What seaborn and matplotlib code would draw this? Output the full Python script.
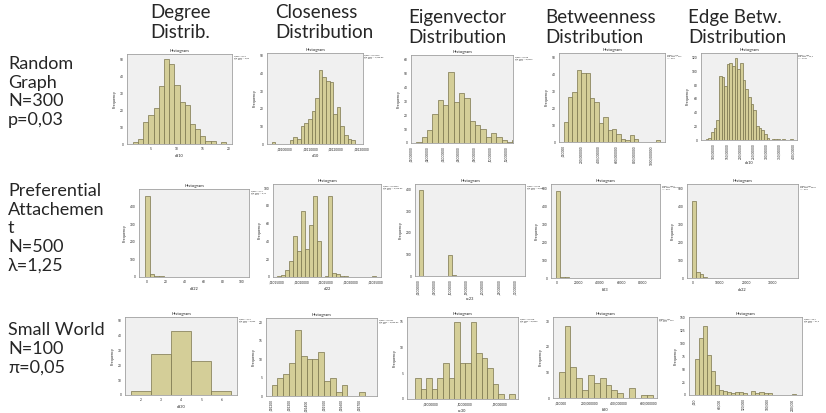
import numpy as np
import pandas as pd
import matplotlib
matplotlib.use("Agg")
import matplotlib.pyplot as plt
import seaborn as sns

sns.set_style("white")
plt.rcParams['font.family'] = ['Lato', 'DejaVu Sans']

W, H = 826, 413
BAR = '#d4ce98'
EDGE = '#7a754c'

row_labels = ["Random\nGraph\nN=300\np=0,03",
              "Preferential\nAttachemen\nt\nN=500\nλ=1,25",
              "Small World\nN=100\nπ=0,05"]
col_labels = ["Degree\nDistrib.", "Closeness\nDistribution", "Eigenvector\nDistribution",
              "Betweenness\nDistribution", "Edge Betw.\nDistribution"]

# --- Random graph (N=300, p=0,03) ---
rg_deg = [1, 3, 13, 17, 21, 34, 50, 47, 35, 25, 23, 12, 9, 5, 2, 2, 0, 1]
rg_clo = [1, 0, 0, 0, 0, 2, 4, 3, 10, 12, 14, 19, 26, 42, 38, 36, 35, 17, 21, 10, 5, 3, 2]
rg_eig = [1, 4, 9, 21, 31, 27, 51, 29, 36, 32, 16, 13, 10, 4, 7, 4, 2, 1, 2]
rg_bet = [12, 27, 30, 43, 41, 41, 26, 24, 11, 15, 7, 8, 5, 2, 1, 4, 2, 0, 0, 0, 0, 1]
rg_eb = [1, 3, 12, 18, 29, 94, 92, 78, 111, 112, 108, 120, 104, 112, 88, 74, 63, 53, 43,
         21, 18, 14, 9, 3, 0, 2, 1, 2, 0, 1, 0, 0, 1]

# --- Preferential attachment (N=500) ---
pa_deg = [462, 19, 6, 4, 2, 2, 1, 1, 0, 1, 0, 1, 0, 0, 0, 0, 0, 0, 0, 0, 1]
pa_clo = [1, 2, 8, 18, 46, 29, 74, 31, 58, 91, 40, 0, 1, 91, 4, 3, 1, 1, 0, 0, 0, 0, 0, 0, 1]
pa_eig = [397, 0, 0, 0, 0, 0, 0, 97, 4, 0, 0, 0, 1, 0, 0, 0, 0, 0, 0, 0, 0, 0, 0, 0, 1]
pa_bet = [486, 4, 3, 2, 2, 1, 1, 0, 0, 0, 0, 0, 0, 0, 0, 0, 0, 0, 0, 0, 0, 0, 0, 1]
pa_eb = [430, 33, 22, 3, 2, 2, 1, 1, 1, 0, 1, 0, 0, 1, 0, 1, 0, 0, 1, 0, 0, 0, 0, 0, 0, 1]

# --- Small world (N=100) ---
sw_deg = [3, 28, 43, 23, 3]
sw_clo = [3, 5, 6, 9, 18, 11, 10, 10, 12, 4, 5, 1, 3, 0, 0, 1]
sw_eig = [4, 2, 4, 2, 4, 7, 4, 15, 7, 7, 15, 9, 8, 6, 3, 1, 0, 1]
sw_bet = [10, 28, 12, 8, 3, 9, 6, 8, 5, 3, 2, 0, 4, 0, 1, 1]
sw_eb = [70, 110, 133, 77, 47, 19, 10, 7, 5, 3, 6, 6, 3, 0, 8, 3, 6, 3, 3, 0, 0, 0, 0, 0, 2]


def spss_num(v, dec):
    s = f"{v:.{dec}f}".replace('.', ',')
    if s.startswith('0,'):
        s = s[1:]
    return s


def stat_num(v):
    s = f"{v:.0f}" if abs(v) >= 100 else f"{v:.3g}"
    return s.replace('.', ',')


# counts, bin start, bin width, var name, xticks, decimals, xlim, ytick step, ymax, rotate
panels = [
    [(rg_deg, 1.5, 1, 'dd10', [5, 10, 15, 20], 0, (0.4, 20.6), 10, 53, False),
     (rg_clo, 0.000950, 1.408e-5, 'cl10', [0.0010, 0.0011, 0.0012, 0.0013], 8, (0.000931, 0.001306), 10, 51.7, False),
     (rg_eig, 0.0067, 0.0067, '', [0, 0.02, 0.04, 0.06, 0.08, 0.10, 0.12], 8, (0, 0.1283), 10, 63, True),
     (rg_bet, 0, 50, '', [0, 200, 400, 600, 800, 1000], 6, (-53, 1152), 10, 52.9, True),
     (rg_eb, 70, 10, 'eb10', [100, 150, 200, 250, 300, 350, 400], 5, (52.5, 415), 20, 126.8, True)],
    [(pa_deg, -1.5, 5, 'dd22', [0, 20, 40, 60, 80, 100], 0, (-7.7, 108), 100, 500, False),
     (pa_clo, 0.0001507, 8.0e-6, 'cl22', [0.00015, 0.00020, 0.00025, 0.00030, 0.00035], 8, (0.0001419, 0.0003616), 20, 104.5, False),
     (pa_eig, 0.0031, 0.0125, 'ec23', [0, 0.05, 0.10, 0.15, 0.20, 0.25, 0.30], 8, (-0.0104, 0.331), 100, 425, True),
     (pa_bet, -600, 4000, 'b23', [0, 20000, 40000, 60000, 80000], 0, (-5440, 96320), 100, 524, False),
     (pa_eb, -390, 1400, 'eb22', [0, 10000, 20000, 30000], 0, (-2320, 39600), 100, 524, False)],
    [(sw_deg, 1.5, 1, 'dd30', [2, 3, 4, 5, 6], 0, (1.2, 6.78), 10, 52.7, False),
     (sw_clo, 0.0012, 0.0001 / 3, '', [0.0012, 0.0013, 0.0014, 0.0015, 0.0016, 0.0017], 6, (0.0011686, 0.001802), 5, 21.2, True),
     (sw_eig, 0.0286, 0.00795, 'ec30', [0.05, 0.10, 0.15], 8, (0.0167, 0.176), 5, 15.9, False),
     (sw_bet, -11.4, 40, 'b30', [0, 200, 400, 600], 6, (-50, 659), 10, 31.7, False),
     (sw_eb, 0, 10, '', [0, 60, 120, 180, 240], 3, (-14, 265), 25, 150.6, True)],
]

# frame boxes in pixels: left, top, right, bottom
boxes = [
    [(127, 54, 232, 144), (267, 53, 363, 144), (411, 55, 513, 143), (559, 53, 665, 142), (701, 53, 797, 140)],
    [(139, 189, 249, 277), (273, 184, 381, 277), (415, 184, 525, 276), (551, 184, 660, 278), (687, 184, 798, 278)],
    [(125, 317, 237, 395), (266, 318, 377, 396), (407, 317, 518, 399), (553, 317, 657, 398), (689, 317, 802, 395)],
]

fig = plt.figure(figsize=(W / 100, H / 100), dpi=100)
fig.patch.set_facecolor('white')

for r in range(3):
    for c in range(5):
        counts, start, width, var, xticks, dec, xlim, ystep, ymax, rotate = panels[r][c]
        left, top, right, bottom = boxes[r][c]
        ax = fig.add_axes([left / W, 1 - bottom / H, (right - left) / W, (bottom - top) / H])
        edges = start + width * np.arange(len(counts) + 1)
        df = pd.DataFrame({'value': edges[:-1] + width / 2, 'count': counts})
        sns.histplot(data=df, x='value', weights='count', bins=edges.tolist(), ax=ax,
                     color=BAR, edgecolor=EDGE, linewidth=0.5, alpha=1)
        ax.set_facecolor('#f0f0f0')
        for s in ax.spines.values():
            s.set_color('#a0a0a0')
            s.set_linewidth(0.6)
        ax.set_xlim(*xlim)
        ax.set_ylim(0, ymax)
        ax.set_yticks(np.arange(0, ymax, ystep))
        ax.set_xticks(xticks)
        ax.set_xticklabels([spss_num(v, dec) for v in xticks], rotation=90 if rotate else 0)
        ax.tick_params(labelsize=2.3, length=1.5, width=0.4, pad=1, color='#606060')
        ax.set_title('Histogram', fontsize=3.2, pad=1.5)
        ax.set_ylabel('Frequency', fontsize=2.8, labelpad=2)
        ax.set_xlabel(var, fontsize=2.8, labelpad=1.5)
        mean = np.average(df['value'], weights=df['count'])
        sd = np.sqrt(np.average((df['value'] - mean) ** 2, weights=df['count']))
        ax.text(1.015, 0.98, f"Mean = {stat_num(mean)}\nStd. Dev. = {stat_num(sd)}\nN = {sum(counts)}",
                transform=ax.transAxes, fontsize=1.5, va='top', ha='left', linespacing=1.1)

row_tops = [56, 183, 322]
for lab, y in zip(row_labels, row_tops):
    fig.text(8 / W, 1 - y / H, lab, fontsize=13, va='top', ha='left', linespacing=1.2)

col_x = [150, 275, 408, 545, 688]
col_y = [4, 4, 9, 9, 9]
for lab, x, y in zip(col_labels, col_x, col_y):
    fig.text(x / W, 1 - y / H, lab, fontsize=13.5, va='top', ha='left', linespacing=1.2)

fig.savefig('out.png', dpi=100, facecolor='white')
